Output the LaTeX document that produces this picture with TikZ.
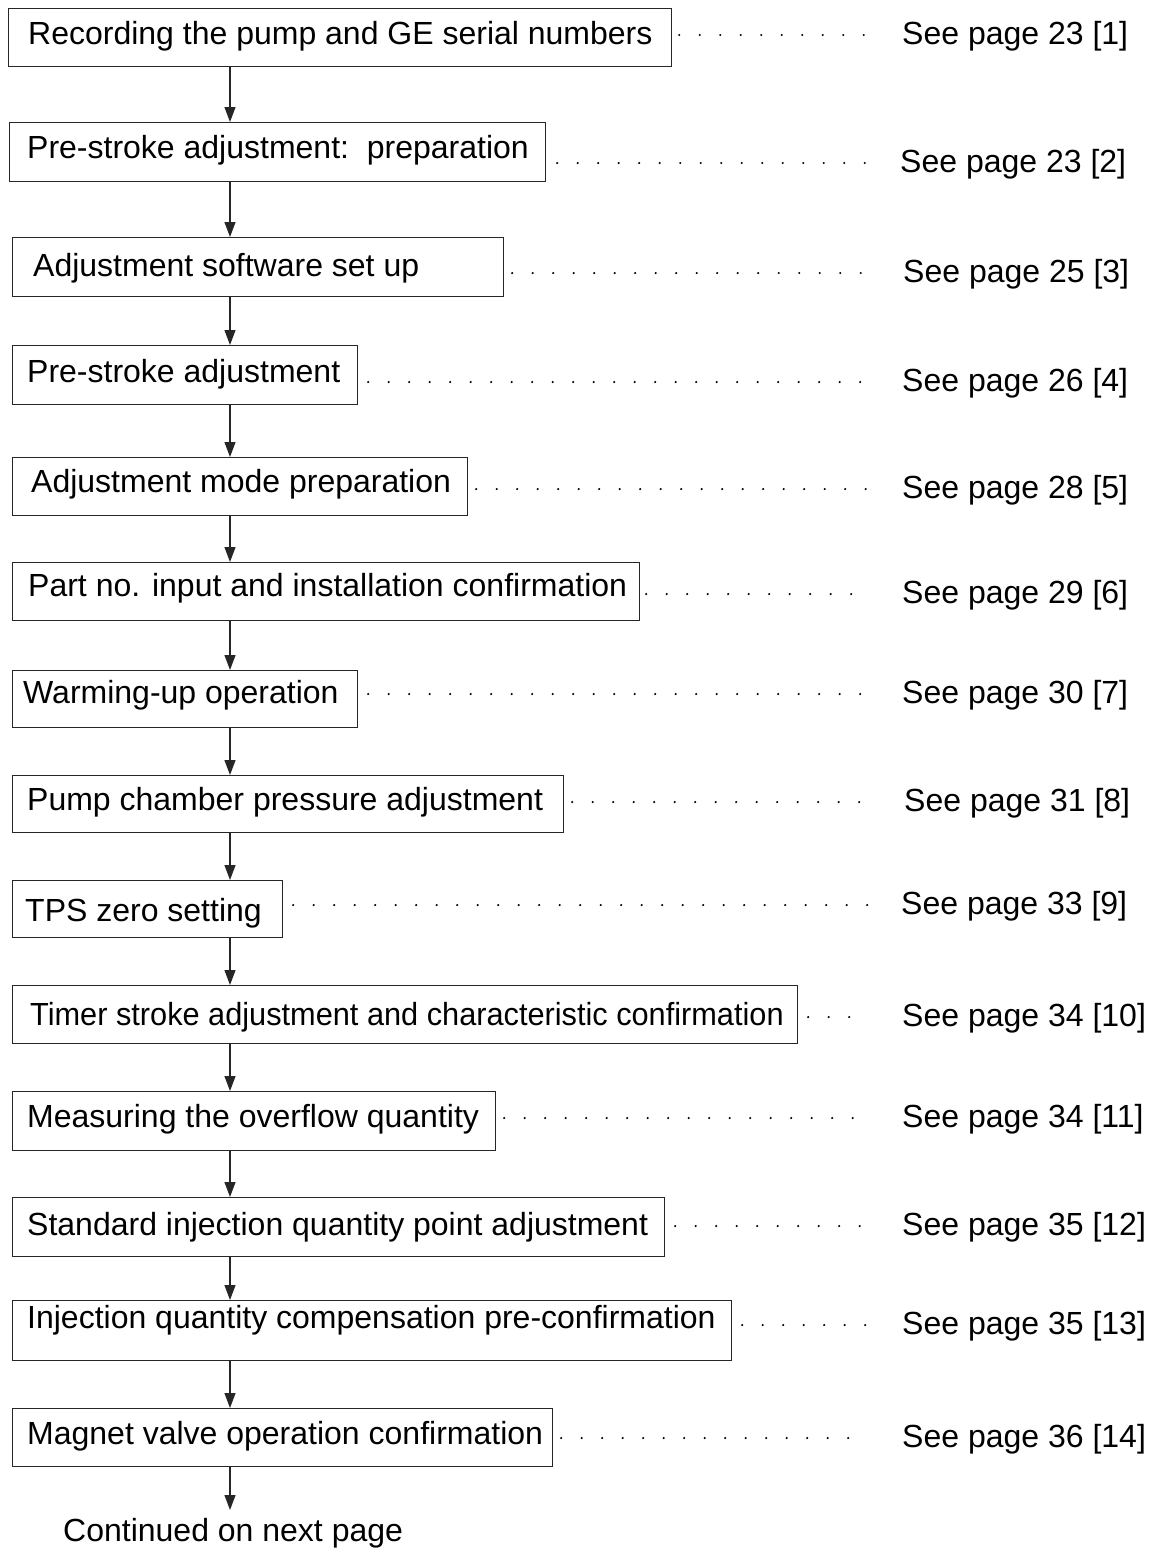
\documentclass[tikz,border=0pt]{standalone}
\usepackage{fontspec}
\setmainfont{Liberation Sans}
\usetikzlibrary{arrows.meta}
\begin{document}
\begin{tikzpicture}[x=1pt,y=-1pt,
  box/.style={draw=black!85, line width=1.2pt, rectangle, inner sep=0pt, anchor=north west},
  txt/.style={inner sep=0pt, anchor=base west, font=\fontsize{32}{38}\selectfont},
  leader/.style={line width=2.4pt, line cap=round, dash pattern=on 0pt off 20.5pt, black},
  arr/.style={line width=1.2pt, black!85, -{Triangle[length=15pt,width=11pt]}}]
\useasboundingbox (0,0) rectangle (1151,1551);
\coordinate (A) at (230,0);
% boxes
\node[box, minimum width=663pt, minimum height=58pt] (b1)  at (8,8) {};
\node[box, minimum width=536pt, minimum height=59pt] (b2)  at (9,122) {};
\node[box, minimum width=491pt, minimum height=59pt] (b3)  at (12,237) {};
\node[box, minimum width=345pt, minimum height=59pt] (b4)  at (12,345) {};
\node[box, minimum width=455pt, minimum height=58pt] (b5)  at (12,457) {};
\node[box, minimum width=627pt, minimum height=58pt] (b6)  at (12,562) {};
\node[box, minimum width=345pt, minimum height=57pt] (b7)  at (12,670) {};
\node[box, minimum width=551pt, minimum height=57pt] (b8)  at (12,775) {};
\node[box, minimum width=270pt, minimum height=57pt] (b9)  at (12,880) {};
\node[box, minimum width=785pt, minimum height=58pt] (b10) at (12,985) {};
\node[box, minimum width=483pt, minimum height=59pt] (b11) at (12,1091) {};
\node[box, minimum width=652pt, minimum height=59pt] (b12) at (12,1197) {};
\node[box, minimum width=719pt, minimum height=60pt] (b13) at (12,1300) {};
\node[box, minimum width=540pt, minimum height=58pt] (b14) at (12,1408) {};
% box texts
\node[txt] (t1)  at (28,44)   {Recording the pump and GE serial numbers};
\node[txt] (t2)  at (27,158)  {Pre-stroke adjustment:\ \ preparation};
\node[txt] (t3)  at (33,276)  {Adjustment software set up};
\node[txt] (t4)  at (27,382)  {Pre-stroke adjustment};
\node[txt] (t5)  at (31,492)  {Adjustment mode preparation};
\node[txt] (t6)  at (28,596)  {Part no. input and installation confirmation};
\node[txt] (t7)  at (23,703)  {Warming-up operation};
\node[txt] (t8)  at (27,810)  {Pump chamber pressure adjustment};
\node[txt] (t9)  at (25,921)  {TPS zero setting};
\node[txt, xscale=0.96] (t10) at (30,1025) {Timer stroke adjustment and characteristic confirmation};
\node[txt] (t11) at (27,1127) {Measuring the overflow quantity};
\node[txt] (t12) at (27,1235) {Standard injection quantity point adjustment};
\node[txt] (t13) at (27,1328) {Injection quantity compensation pre-confirmation};
\node[txt] (t14) at (27,1444) {Magnet valve operation confirmation};
% references
\node[txt] (r1)  at (902,44)   {See page 23 [1]};
\node[txt] (r2)  at (900,172)  {See page 23 [2]};
\node[txt] (r3)  at (903,282)  {See page 25 [3]};
\node[txt] (r4)  at (902,391)  {See page 26 [4]};
\node[txt] (r5)  at (902,498)  {See page 28 [5]};
\node[txt] (r6)  at (902,603)  {See page 29 [6]};
\node[txt] (r7)  at (902,703)  {See page 30 [7]};
\node[txt] (r8)  at (904,811)  {See page 31 [8]};
\node[txt] (r9)  at (901,914)  {See page 33 [9]};
\node[txt] (r10) at (902,1026) {See page 34 [10]};
\node[txt] (r11) at (902,1127) {See page 34 [11]};
\node[txt] (r12) at (902,1235) {See page 35 [12]};
\node[txt] (r13) at (902,1334) {See page 35 [13]};
\node[txt] (r14) at (902,1447) {See page 36 [14]};
% leader dot ends
\coordinate (d1)  at (868,35);
\coordinate (d2)  at (868,163);
\coordinate (d3)  at (868,273);
\coordinate (d4)  at (868,382);
\coordinate (d5)  at (868,489);
\coordinate (d6)  at (868,594);
\coordinate (d7)  at (868,694);
\coordinate (d8)  at (868,802);
\coordinate (d9)  at (868,905);
\coordinate (d10) at (868,1017);
\coordinate (d11) at (868,1118);
\coordinate (d12) at (868,1226);
\coordinate (d13) at (868,1325);
\coordinate (d14) at (868,1438);
\foreach \i/\g in {1/7,2/11,3/8,4/10,5/8,6/6,7/10,8/8,9/10,10/10,11/8,12/10,13/10,14/8}{
  \draw[leader] (b\i.east |- d\i) ++(\g,0) -- (d\i);
}
% arrows
\foreach \i [evaluate=\i as \j using int(\i+1)] in {1,...,13}{
  \draw[arr] (b\i.south -| A) -- (b\j.north -| A);
}
\coordinate (cend) at (230,1510);
\draw[arr] (b14.south -| A) -- (cend);
\node[txt] (cont) at (63,1541) {Continued on next page};
\end{tikzpicture}
\end{document}
